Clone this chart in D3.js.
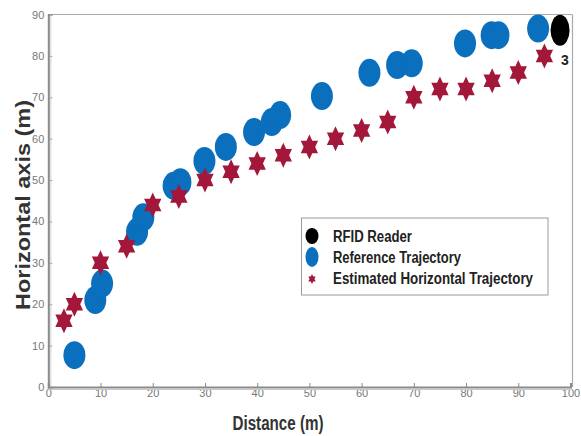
<!DOCTYPE html>
<html><head><meta charset="utf-8">
<script src="https://cdn.jsdelivr.net/npm/d3@7"></script>
<style>body{margin:0;background:#fff}svg{display:block}</style>
</head><body>
<svg id="c" width="581" height="436"></svg>
<script>
// Data
const readerX = [98];
const readerY = [86.2];
const readerLabel = ["3"];
const refX = [5, 9, 10.3, 17, 18.2, 24, 25.3, 29.9, 34, 39.4, 42.8, 44.4, 52.4, 61.5, 66.8, 69.6, 79.8, 84.9, 86.2, 93.8];
const refY = [7.7, 21, 25, 37.5, 41, 48.6, 49.5, 54.6, 58, 61.6, 64, 65.7, 70.3, 75.9, 77.8, 78.2, 83, 85, 85, 86.6];
const estX = [3, 5, 10, 15, 20, 25, 30, 35, 40, 45, 50, 55, 60, 65, 70, 75, 80, 85, 90, 95];
const estY = [16, 20, 30, 34, 44, 46, 50, 52, 54, 56, 58, 60, 62, 64, 70, 72, 72, 74, 76, 80];
const xTicks = [0,10,20,30,40,50,60,70,80,90,100];
const yTicks = [0,10,20,30,40,50,60,70,80,90];
const legendLabels = ["RFID Reader", "Reference Trajectory", "Estimated Horizontal Trajectory"];

const svg = d3.select("#c");
const x = d3.scaleLinear().domain([0,100]).range([48.3, 570.5]);
const y = d3.scaleLinear().domain([0,90]).range([387, 14.5]);

const blue = "#0a6fbd", red = "#a3173a", grayAx = "#8a8a8a";

// frame top/right
svg.append("line").attr("x1", x(0)).attr("x2", x(100)+2).attr("y1", y(90)).attr("y2", y(90)).attr("stroke", "#aaa").attr("stroke-width", 1.2);
svg.append("line").attr("x1", x(100)+2).attr("x2", x(100)+2).attr("y1", y(90)).attr("y2", y(0)).attr("stroke", "#aaa").attr("stroke-width", 1.2);

// axes
const xAxis = d3.axisBottom(x).tickValues(xTicks).tickSize(-4).tickPadding(2);
const gx = svg.append("g").attr("transform", `translate(0,${y(0)})`).call(xAxis);
const yAxis = d3.axisLeft(y).tickValues(yTicks).tickSize(-4).tickPadding(4);
const gy = svg.append("g").attr("transform", `translate(${x(0)},0)`).call(yAxis);
[gx, gy].forEach(g => {
  g.select(".domain").attr("stroke", grayAx).attr("stroke-width", 2);
  g.selectAll(".tick line").attr("stroke", grayAx);
  g.selectAll(".tick text").attr("fill", "#777").attr("font-family", "Liberation Sans, Arial, sans-serif").attr("font-size", 11);
});
// shadow lines for double-line look
svg.append("line").attr("x1", x(0)).attr("x2", x(100)+2).attr("y1", y(0)+2.5).attr("y2", y(0)+2.5).attr("stroke", "#c8c8c8").attr("stroke-width", 1);
svg.append("line").attr("x1", x(0)+2.5).attr("x2", x(0)+2.5).attr("y1", y(90)).attr("y2", y(0)).attr("stroke", "#d0d0d0").attr("stroke-width", 1);

// hexagram path
function hexagram(R) {
  const r = R / Math.sqrt(3);
  const pts = [];
  for (let i = 0; i < 12; i++) {
    const a = -Math.PI/2 + i * Math.PI/6;
    const rad = i % 2 === 0 ? R : r;
    pts.push([rad*Math.cos(a), rad*Math.sin(a)]);
  }
  return "M" + pts.map(p => p.map(v => v.toFixed(2)).join(",")).join("L") + "Z";
}

// reference circles
svg.append("g").selectAll("ellipse").data(refX.map((d,i)=>[d, refY[i]])).join("ellipse")
  .attr("cx", d => x(d[0])).attr("cy", d => y(d[1])).attr("rx", 11).attr("ry", 14)
  .attr("fill", blue);

// reader
svg.append("g").selectAll("ellipse").data(readerX.map((d,i)=>[d, readerY[i]])).join("ellipse")
  .attr("cx", d => x(d[0])).attr("cy", d => y(d[1])).attr("rx", 9.5).attr("ry", 15.5)
  .attr("fill", "#000");
svg.append("g").selectAll("text").data(readerX.map((d,i)=>[d, readerY[i], readerLabel[i]])).join("text")
  .attr("x", d => x(d[0]) + 1).attr("y", d => y(d[1]) + 35)
  .attr("font-family", "Liberation Sans, Arial, sans-serif").attr("font-weight", "bold")
  .attr("font-size", 14).attr("fill", "#222").text(d => d[2]);

// estimated stars
svg.append("g").selectAll("path").data(estX.map((d,i)=>[d, estY[i]])).join("path")
  .attr("d", hexagram(12.5))
  .attr("transform", d => `translate(${x(d[0])},${y(d[1])}) scale(0.8,1)`)
  .attr("fill", red);

// axis labels
svg.append("text").attr("x", 278).attr("y", 430).attr("text-anchor", "middle")
  .attr("font-family", "Liberation Sans, Arial, sans-serif").attr("font-weight", "bold").attr("font-size", 20)
  .attr("fill", "#333").attr("textLength", 91).attr("lengthAdjust", "spacingAndGlyphs").text("Distance (m)");
svg.append("text").attr("transform", "translate(30,205) rotate(-90)").attr("text-anchor", "middle")
  .attr("font-family", "Liberation Sans, Arial, sans-serif").attr("font-weight", "bold").attr("font-size", 20)
  .attr("fill", "#333").attr("textLength", 210).attr("lengthAdjust", "spacingAndGlyphs").text("Horizontal axis (m)");

// legend
const lg = svg.append("g");
lg.append("rect").attr("x", 301.5).attr("y", 218).attr("width", 246.5).attr("height", 77)
  .attr("fill", "#fff").attr("stroke", "#999").attr("stroke-width", 1);
const legY = [236, 257, 278];
const legW = [79, 128, 200];
lg.append("ellipse").attr("cx", 312).attr("cy", legY[0]).attr("rx", 6.5).attr("ry", 8).attr("fill", "#000");
lg.append("ellipse").attr("cx", 312).attr("cy", legY[1]).attr("rx", 6.5).attr("ry", 10).attr("fill", blue);
lg.append("path").attr("d", hexagram(5)).attr("transform", `translate(312,${legY[2]+1}) scale(0.85,1)`).attr("fill", red);
lg.selectAll("text.l").data(legendLabels).join("text").attr("class", "l")
  .attr("x", 333).attr("y", (d,i) => legY[i] + 6)
  .attr("font-family", "Liberation Sans, Arial, sans-serif").attr("font-weight", "bold").attr("font-size", 16)
  .attr("fill", "#222").attr("textLength", (d,i) => legW[i]).attr("lengthAdjust", "spacingAndGlyphs")
  .text(d => d);
</script>
</body></html>
